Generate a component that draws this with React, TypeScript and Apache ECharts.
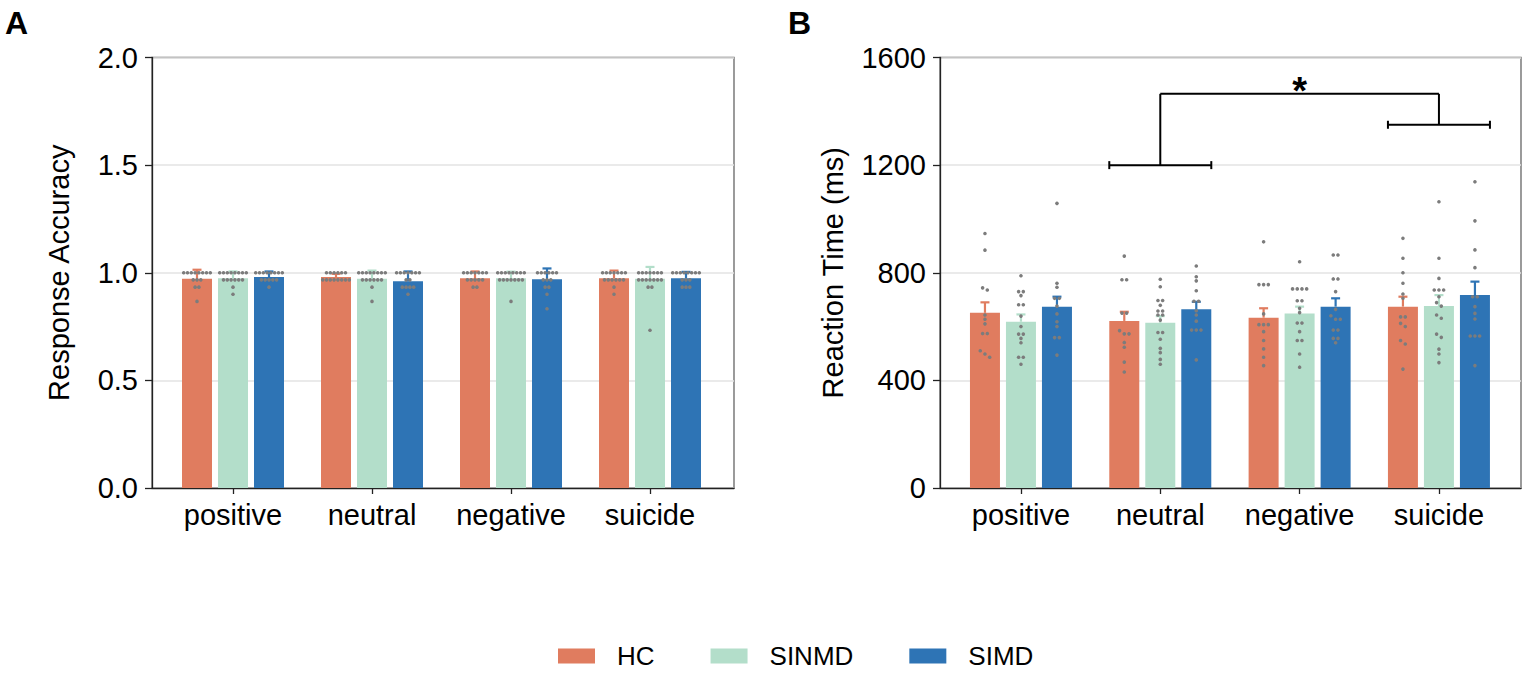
import React, { useEffect, useRef } from 'react';
import * as echarts from 'echarts';

// ---------- data ----------
const categories = ['positive', 'neutral', 'negative', 'suicide'];
const groupNames = ['HC', 'SINMD', 'SIMD'];
const groupColors = ['#E07C5F', '#B3DECA', '#2E74B5'];

// Panel A: response accuracy (bar = mean, errTop = mean + SEM)
const accMeanHC = [0.972, 0.98, 0.975, 0.975];
const accMeanSINMD = [0.975, 0.972, 0.975, 0.972];
const accMeanSIMD = [0.98, 0.96, 0.97, 0.975];
const accErrTopHC = [1.014, 0.995, 1.006, 1.01];
const accErrTopSINMD = [1.006, 1.01, 1.005, 1.027];
const accErrTopSIMD = [1.006, 1.006, 1.02, 1.004];

const accPtsHC = [
  [1, 1, 1, 1, 1, 1, 1, 1, 0.967, 0.967, 0.967, 0.933, 0.933, 0.867],
  [1, 1, 1, 1, 1, 1, 0.967, 0.967, 0.967, 0.967, 0.967, 0.967, 0.967, 0.967],
  [1, 1, 1, 1, 1, 1, 1, 0.967, 0.967, 0.967, 0.967, 0.967, 0.933, 0.933],
  [1, 1, 1, 1, 1, 1, 1, 0.967, 0.967, 0.967, 0.967, 0.967, 0.967, 0.933, 0.9],
];
const accPtsSINMD = [
  [1, 1, 1, 1, 1, 1, 1, 1, 0.967, 0.967, 0.967, 0.967, 0.967, 0.967, 0.933, 0.9],
  [1, 1, 1, 1, 1, 1, 1, 1, 0.967, 0.967, 0.967, 0.967, 0.967, 0.967, 0.933, 0.867],
  [1, 1, 1, 1, 1, 1, 1, 1, 0.967, 0.967, 0.967, 0.967, 0.967, 0.967, 0.967, 0.867],
  [1, 1, 1, 1, 1, 1, 1, 0.967, 0.967, 0.967, 0.967, 0.967, 0.967, 0.967, 0.933, 0.933, 0.733],
];
const accPtsSIMD = [
  [1, 1, 1, 1, 1, 1, 1, 1, 0.967, 0.967, 0.967, 0.967, 0.967, 0.933],
  [1, 1, 1, 1, 1, 1, 1, 0.967, 0.967, 0.933, 0.933, 0.933, 0.933, 0.9],
  [1, 1, 1, 1, 1, 1, 0.967, 0.967, 0.967, 0.933, 0.933, 0.9, 0.833],
  [1, 1, 1, 1, 1, 1, 1, 1, 0.967, 0.967, 0.967, 0.933, 0.933, 0.933],
];

// Panel B: reaction time (ms)
const rtMeanHC = [651, 621, 633, 674];
const rtMeanSINMD = [618, 614, 649, 676];
const rtMeanSIMD = [674, 664, 674, 717];
const rtErrTopHC = [690, 655, 668, 711];
const rtErrTopSINMD = [645, 639, 674, 717];
const rtErrTopSIMD = [711, 692, 705, 767];

const rtPtsHC = [
  [946, 884, 744, 736, 643, 627, 610, 574, 574, 510, 498, 486],
  [862, 774, 774, 650, 650, 585, 573, 573, 541, 523, 468, 431],
  [915, 756, 756, 756, 647, 607, 607, 607, 581, 548, 517, 486, 455],
  [928, 854, 800, 761, 721, 705, 636, 636, 612, 600, 548, 535, 442],
];
const rtPtsSINMD = [
  [789, 730, 730, 715, 681, 681, 639, 600, 572, 572, 556, 540, 486, 486, 460],
  [776, 748, 697, 697, 679, 658, 658, 643, 643, 624, 578, 578, 553, 519, 503, 478, 460],
  [841, 740, 740, 740, 740, 696, 696, 668, 652, 613, 613, 581, 548, 548, 498, 449],
  [1064, 854, 779, 736, 736, 736, 711, 689, 676, 643, 631, 572, 560, 516, 498, 466],
];
const rtPtsSIMD = [
  [1058, 761, 746, 705, 705, 676, 647, 618, 600, 559, 559, 494],
  [825, 785, 770, 733, 694, 694, 659, 643, 620, 587, 587, 587, 476],
  [866, 866, 777, 777, 730, 664, 640, 627, 627, 587, 587, 556, 556, 540],
  [1138, 993, 885, 819, 711, 711, 674, 649, 628, 565, 565, 565, 455],
];

// significance bracket: [fromCategory, toCategory, leftLevel, rightLevel, topLevel]
const rtBracket = [[1, 3, 1200, 1350, 1465]];
const rtBracketLabel = '*';

// y-axis ticks
const accTicks = { min: 0, max: 2, interval: 0.5 };
const rtTicks = { min: 0, max: 1600, interval: 400 };

// ---------- helpers ----------
const FONT = "'Liberation Sans', Arial, Helvetica, sans-serif";
const BAR_W = 30;
const BAR_STEP = 36;
const FS = 29;

function swarmSlots(values: number[], tol: number): number[] {
  const idx = values.map((_, i) => i).sort((a, b) => values[b] - values[a]);
  const slots = new Array(values.length).fill(0);
  let row: number[] = [];
  const flush = () => {
    const k = row.length;
    row.forEach((j, i) => (slots[j] = i - (k - 1) / 2));
    row = [];
  };
  for (const j of idx) {
    if (row.length && values[row[row.length - 1]] - values[j] > tol) flush();
    row.push(j);
  }
  flush();
  return slots;
}

function dotData(pts: number[][][], tol: number) {
  const out: number[][] = [];
  pts.forEach((grp, g) =>
    grp.forEach((vals, c) => {
      const s = swarmSlots(vals, tol);
      vals.forEach((v, i) => out.push([c, g, v, s[i]]));
    })
  );
  return out;
}

function errData(means: number[][], tops: number[][]) {
  const out: number[][] = [];
  means.forEach((m, g) => m.forEach((v, c) => out.push([c, g, v, tops[g][c]])));
  return out;
}

function dotSeries(data: number[][], xi: number, yi: number, spacing: number) {
  return {
    type: 'custom',
    xAxisIndex: xi,
    yAxisIndex: yi,
    z: 4,
    silent: true,
    encode: { x: 0, y: 2 },
    data,
    renderItem: (_p: any, api: any) => {
      const c = api.value(0);
      const g = api.value(1);
      const p = api.coord([c, api.value(2)]);
      return {
        type: 'circle',
        shape: { cx: p[0] + (g - 1) * BAR_STEP + api.value(3) * spacing, cy: p[1], r: 1.8 },
        style: { fill: '#7c7c7c' },
      };
    },
  };
}

function errSeries(data: number[][], xi: number, yi: number) {
  return {
    type: 'custom',
    xAxisIndex: xi,
    yAxisIndex: yi,
    z: 3,
    silent: true,
    encode: { x: 0, y: 2 },
    data,
    renderItem: (_p: any, api: any) => {
      const c = api.value(0);
      const g = api.value(1);
      const pb = api.coord([c, api.value(2)]);
      const pt = api.coord([c, api.value(3)]);
      const x = pb[0] + (g - 1) * BAR_STEP;
      const st = { stroke: groupColors[g], lineWidth: 2.2 };
      return {
        type: 'group',
        children: [
          { type: 'line', shape: { x1: x, y1: pb[1], x2: x, y2: pt[1] }, style: st },
          { type: 'line', shape: { x1: x - 4.5, y1: pt[1], x2: x + 4.5, y2: pt[1] }, style: st },
        ],
      };
    },
  };
}

function barSeries(means: number[][], xi: number, yi: number) {
  return means.map((m, g) => ({
    type: 'bar',
    name: groupNames[g],
    xAxisIndex: xi,
    yAxisIndex: yi,
    barWidth: BAR_W,
    barGap: '20%',
    z: 2,
    silent: true,
    itemStyle: { color: groupColors[g] },
    data: m,
  }));
}

function bracketSeries(xi: number, yi: number) {
  return {
    type: 'custom',
    xAxisIndex: xi,
    yAxisIndex: yi,
    z: 5,
    silent: true,
    encode: { x: 0, y: 2 },
    data: rtBracket,
    renderItem: (_p: any, api: any) => {
      const pL = api.coord([api.value(0), api.value(2)]);
      const pR = api.coord([api.value(1), api.value(3)]);
      const yT = api.coord([api.value(0), api.value(4)])[1];
      const hw = 51;
      const st = { stroke: '#000', lineWidth: 2 };
      const ln = (x1: number, y1: number, x2: number, y2: number) => ({
        type: 'line',
        shape: { x1, y1, x2, y2 },
        style: st,
      });
      return {
        type: 'group',
        children: [
          ln(pL[0] - hw, pL[1], pL[0] + hw, pL[1]),
          ln(pL[0] - hw, pL[1] - 4, pL[0] - hw, pL[1] + 4),
          ln(pL[0] + hw, pL[1] - 4, pL[0] + hw, pL[1] + 4),
          ln(pL[0], pL[1], pL[0], yT),
          ln(pL[0], yT, pR[0], yT),
          ln(pR[0], yT, pR[0], pR[1]),
          ln(pR[0] - hw, pR[1], pR[0] + hw, pR[1]),
          ln(pR[0] - hw, pR[1] - 4, pR[0] - hw, pR[1] + 4),
          ln(pR[0] + hw, pR[1] - 4, pR[0] + hw, pR[1] + 4),
          {
            type: 'text',
            style: {
              x: (pL[0] + pR[0]) / 2,
              y: yT - 3,
              text: rtBracketLabel,
              fill: '#000',
              font: `bold 38px ${FONT}`,
              align: 'center',
              verticalAlign: 'middle',
            },
          },
        ],
      };
    },
  };
}

function frameAxes(
  gi: number,
  ticks: { min: number; max: number; interval: number },
  name: string,
  nameGap: number,
  fmt: (v: number) => string
) {
  const x = {
    type: 'value',
    gridIndex: gi,
    min: 0,
    max: 1,
    axisLine: { show: true, lineStyle: { color: '#222', width: 1.3 } },
    axisTick: { show: false },
    axisLabel: { show: false },
    splitLine: { show: false },
  };
  const y = {
    type: 'value',
    gridIndex: gi,
    min: ticks.min,
    max: ticks.max,
    interval: ticks.interval,
    name,
    nameLocation: 'middle',
    nameGap,
    nameRotate: 90,
    nameTextStyle: { fontSize: FS, color: '#000', fontFamily: FONT },
    axisLine: { show: true, lineStyle: { color: '#222', width: 1.3 } },
    axisTick: { show: true, length: 7, lineStyle: { color: '#222', width: 1.3 } },
    axisLabel: { fontSize: FS, color: '#000', fontFamily: FONT, margin: 14, formatter: fmt },
    splitLine: { show: true, lineStyle: { color: '#e3e3e3', width: 1.5 } },
  };
  return { x, y };
}

function dataAxes(gi: number, ticks: { min: number; max: number }) {
  const x = {
    type: 'category',
    gridIndex: gi,
    data: categories,
    boundaryGap: true,
    axisLine: { show: false },
    axisTick: { show: true, interval: 0, alignWithLabel: true, length: 6, lineStyle: { color: '#222', width: 1.3 } },
    axisLabel: { interval: 0, hideOverlap: false, fontSize: FS, color: '#000', fontFamily: FONT, margin: 12 },
    splitLine: { show: false },
  };
  const y = {
    type: 'value',
    gridIndex: gi,
    min: ticks.min,
    max: ticks.max,
    show: false,
    splitLine: { show: false },
  };
  return { x, y };
}

export default function App() {
  const ref = useRef<HTMLDivElement>(null);

  useEffect(() => {
    if (!ref.current) return;
    const chart = echarts.init(ref.current, undefined, { renderer: 'svg' });

    const aF = frameAxes(0, accTicks, 'Response Accuracy', 79, (v: number) => v.toFixed(1));
    const aD = dataAxes(1, accTicks);
    const bF = frameAxes(2, rtTicks, 'Reaction Time (ms)', 93, (v: number) => String(v));
    const bD = dataAxes(3, rtTicks);

    const accMeans = [accMeanHC, accMeanSINMD, accMeanSIMD];
    const accTops = [accErrTopHC, accErrTopSINMD, accErrTopSIMD];
    const rtMeans = [rtMeanHC, rtMeanSINMD, rtMeanSIMD];
    const rtTops = [rtErrTopHC, rtErrTopSINMD, rtErrTopSIMD];

    const option: any = {
      animation: false,
      textStyle: { fontFamily: FONT },
      grid: [
        { left: 152, top: 57.5, width: 582, height: 430.5, show: true, borderColor: '#666', borderWidth: 1.3, backgroundColor: 'transparent' },
        { left: 163.5, top: 57.5, width: 556, height: 430.5 },
        { left: 940, top: 57.5, width: 581, height: 430.5, show: true, borderColor: '#666', borderWidth: 1.3, backgroundColor: 'transparent' },
        { left: 951.3, top: 57.5, width: 557.3, height: 430.5 },
      ],
      xAxis: [aF.x, aD.x, bF.x, bD.x],
      yAxis: [aF.y, aD.y, bF.y, bD.y],
      legend: {
        data: groupNames,
        left: 558,
        top: 643,
        padding: 0,
        icon: 'rect',
        itemWidth: 37,
        itemHeight: 15,
        itemGap: 56,
        selectedMode: false,
        textStyle: { fontSize: 26, color: '#000', fontFamily: FONT, padding: [0, 0, 0, 17] },
      },
      graphic: [
        { type: 'text', left: 5, top: 7, style: { text: 'A', font: `bold 32px ${FONT}`, fill: '#000' } },
        { type: 'text', left: 788, top: 7, style: { text: 'B', font: `bold 32px ${FONT}`, fill: '#000' } },
      ],
      series: [
        ...barSeries(accMeans, 1, 1),
        errSeries(errData(accMeans, accTops), 1, 1),
        dotSeries(dotData([accPtsHC, accPtsSINMD, accPtsSIMD], 0.01), 1, 1, 3.8),
        ...barSeries(rtMeans, 3, 3),
        errSeries(errData(rtMeans, rtTops), 3, 3),
        dotSeries(dotData([rtPtsHC, rtPtsSINMD, rtPtsSIMD], 13), 3, 3, 4.7),
        bracketSeries(3, 3),
      ],
    };
    chart.setOption(option);
    return () => chart.dispose();
  }, []);

  return (
    <div
      ref={ref}
      style={{ position: 'fixed', left: 0, top: 0, width: 1535, height: 681, background: '#fff' }}
    />
  );
}
